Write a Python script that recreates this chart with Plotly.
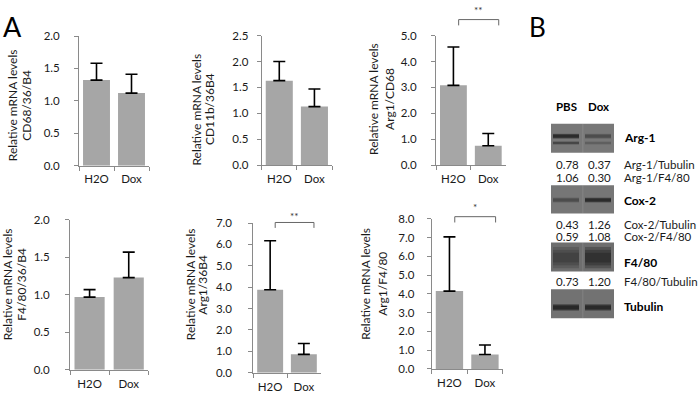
import plotly.graph_objects as go

W, H = 700, 401

# ---------------- data ----------------
categories = ["H2O", "Dox"]
panel_labels = ["CD68/36/B4", "CD11b/36B4", "Arg1/CD68",
                "F4/80/36/B4", "Arg1/36B4", "Arg1/F4/80"]
means_cd68 = [1.32, 1.12]
means_cd11b = [1.63, 1.13]
means_arg1_cd68 = [3.08, 0.75]
means_f480 = [0.97, 1.23]
means_arg1_36b4 = [3.88, 0.86]
means_arg1_f480 = [4.15, 0.77]
errs_cd68 = [0.26, 0.29]
errs_cd11b = [0.37, 0.34]
errs_arg1_cd68 = [1.48, 0.47]
errs_f480 = [0.10, 0.34]
errs_arg1_36b4 = [2.29, 0.51]
errs_arg1_f480 = [2.89, 0.50]
y_max = [2.0, 2.5, 5.0, 2.0, 7.0, 8.0]
y_dtick = [0.5, 0.5, 1.0, 0.5, 1.0, 1.0]
significance = ["", "", "**", "", "**", "*"]

lanes = ["PBS", "Dox"]
blot_labels = ["Arg-1", "Cox-2", "F4/80", "Tubulin"]
arg1_tubulin = [0.78, 0.37]
arg1_f480 = [1.06, 0.30]
cox2_tubulin = [0.43, 1.26]
cox2_f480 = [0.59, 1.08]
f480_tubulin = [0.73, 1.20]
# relative band darkness (PBS, Dox)
band_arg1_upper = [0.95, 0.45]
band_arg1_lower = [0.55, 0.25]
band_cox2 = [0.45, 0.95]
band_f480 = [0.55, 0.85]
band_tubulin = [1.0, 0.95]

means = [means_cd68, means_cd11b, means_arg1_cd68, means_f480, means_arg1_36b4, means_arg1_f480]
errs = [errs_cd68, errs_cd11b, errs_arg1_cd68, errs_f480, errs_arg1_36b4, errs_arg1_f480]

# ---------------- layout geometry (pixels) ----------------
boxes = [(79, 149, 30, 164), (261.7, 332, 29.5, 163.5), (436, 505.7, 29.5, 163.5),
         (70, 148.3, 220, 375), (253.3, 320.7, 223.3, 378), (431.7, 502.7, 219, 374)]
title_x = [(12.5, 27), (197, 209.5), (374, 390), (7.5, 22), (190.5, 203), (366, 383)]
title_y = [102, 106, 95, 287, 287, 286]
ystandoff = [12, 6, 12, 13, 14, 10]
bracket_px = [None, None, (13, 19, 3), None, (222.7, 228.3, 216), (216.7, 222.7, 207)]


def px(x):
    return x / W


def py(y):
    return 1 - y / H


FONT = "Lato, Open Sans, sans-serif"
TXT = "#1a1a1a"
AX = "#8a8a8a"

fig = go.Figure()
annotations = []
shapes = []


def text(t, x, y, size=11, xanchor="center", color=TXT, angle=0, bold=False):
    annotations.append(dict(
        text=("<b>%s</b>" % t) if bold else t, x=px(x), y=py(y), xref="paper", yref="paper",
        showarrow=False, xanchor=xanchor, yanchor="middle", textangle=angle,
        font=dict(family=FONT, size=size, color=color)))


for i in range(6):
    n = "" if i == 0 else str(i + 1)
    x0, x1, yt, yb = boxes[i]
    fig.add_trace(go.Bar(
        x=categories, y=means[i], width=0.77,
        marker=dict(color="#a6a6a6", line=dict(width=0)),
        error_y=dict(type="data", array=errs[i], arrayminus=[0, 0], symmetric=False,
                     color="black", thickness=1.6, width=6),
        xaxis="x" + n, yaxis="y" + n, showlegend=False, hoverinfo="skip"))
    fig.layout["xaxis" + n] = dict(
        domain=[px(x0), px(x1)], anchor="y" + n, type="category", range=[-0.5, 1.5],
        showline=True, linecolor=AX, linewidth=1, ticks="outside", tickson="boundaries",
        ticklen=4, tickcolor=AX, showgrid=False, zeroline=False,
        tickfont=dict(family=FONT, size=11.5, color=TXT), ticklabelstandoff=3, fixedrange=True)
    fig.layout["yaxis" + n] = dict(
        domain=[py(yb), py(yt)], anchor="x" + n, range=[0, y_max[i]], dtick=y_dtick[i],
        tick0=0, tickformat=".1f", showline=True, linecolor=AX, linewidth=1,
        ticks="outside", ticklen=4, tickcolor=AX, showgrid=False, zeroline=False,
        tickfont=dict(family=FONT, size=11.5, color=TXT), ticklabelstandoff=ystandoff[i],
        fixedrange=True)
    text("Relative mRNA levels", title_x[i][0], title_y[i], size=12, angle=-90)
    text(panel_labels[i], title_x[i][1], title_y[i], size=12, angle=-90)
    if significance[i]:
        bl, bt, st = bracket_px[i]
        span = yb - yt
        ya = (yb - bt) / span
        yb_ = (yb - bl) / span
        shapes.append(dict(
            type="path", xref="x" + n, yref="y" + n + " domain",
            path=f"M 0.15,{ya} L 0.15,{yb_} L 1.3,{yb_} L 1.3,{ya}",
            line=dict(color="#666666", width=1)))
        annotations.append(dict(
            text=significance[i], xref="x" + n, yref="y" + n + " domain",
            x=0.72, y=(yb - st) / span, showarrow=False, xanchor="center", yanchor="middle",
            font=dict(family=FONT, size=10, color="#333333")))

# panel letters
text("A", 12, 20, size=27, color="black")
text("B", 537, 21, size=26, color="black")

# ---------------- panel B : western blot ----------------
lane_x = [566, 598]
blot_x = (551, 614)
blot_rows = [(120.7, 150.7), (184.3, 213.3), (243.3, 273.3), (291.7, 321.7)]
blot_bg = ["#787878", "#767676", "#6e6e6e", "#727272"]
blot_label_y = [135, 199.5, 264, 310]

for lx, lab in zip(lane_x, lanes):
    text(lab, lx, 103, size=11.5, color="black", bold=True)

for (yt, yb), bg, lab, ly in zip(blot_rows, blot_bg, blot_labels, blot_label_y):
    shapes.append(dict(type="rect", xref="paper", yref="paper",
                       x0=px(blot_x[0]), x1=px(blot_x[1]), y0=py(yb), y1=py(yt),
                       fillcolor=bg, line=dict(width=0), layer="above"))
    text(lab, 622, ly, size=12, xanchor="left", color="black", bold=True)
# lane separator
for (yt, yb) in blot_rows:
    shapes.append(dict(type="rect", xref="paper", yref="paper",
                       x0=px(582), x1=px(583.5), y0=py(yb), y1=py(yt),
                       fillcolor="rgba(255,255,255,0.08)", line=dict(width=0), layer="above"))


def band(lane, yc, h, dark, soft=1):
    cx = lane_x[lane]
    for k in range(soft):
        hh = h * (1 + 0.6 * k)
        shapes.append(dict(type="rect", xref="paper", yref="paper",
                           x0=px(cx - 13), x1=px(cx + 13),
                           y0=py(yc + hh / 2), y1=py(yc - hh / 2),
                           fillcolor=f"rgba(15,15,15,{dark / soft:.3f})",
                           line=dict(width=0), layer="above"))


for j in range(2):
    band(j, 133.5, 3, band_arg1_upper[j], 2)
    band(j, 140.5, 2, band_arg1_lower[j], 2)
    band(j, 199.5, 3, band_cox2[j], 2)
    band(j, 259, 10, band_f480[j], 3)
    band(j, 310.5, 4, band_tubulin[j], 2)

quant = [(arg1_tubulin, "Arg-1/Tubulin", 162.7), (arg1_f480, "Arg-1/F4/80", 176.7),
         (cox2_tubulin, "Cox-2/Tubulin", 224.3), (cox2_f480, "Cox-2/F4/80", 236.7),
         (f480_tubulin, "F4/80/Tubulin", 283.3)]
for vals, lab, yy in quant:
    for lx, v in zip(lane_x, vals):
        text(f"{v:.2f}", lx + 1, yy, size=11.5)
    text(lab, 622, yy, size=11.5, xanchor="left")

fig.update_layout(width=W, height=H, margin=dict(l=0, r=0, t=0, b=0),
                  paper_bgcolor="white", plot_bgcolor="white",
                  annotations=annotations, shapes=shapes, bargap=0.2)
fig.write_html("out.html", config={"displayModeBar": False},
               post_script="document.body.style.margin='0';document.body.style.overflow='hidden';")
